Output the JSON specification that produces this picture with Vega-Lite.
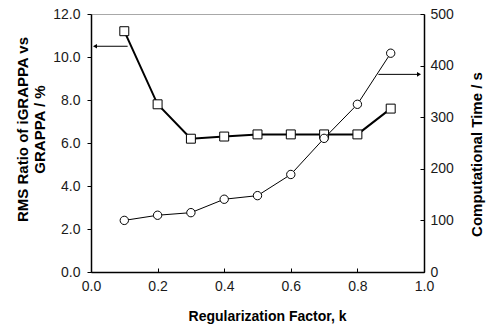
{
  "$schema": "https://vega.github.io/schema/vega-lite/v6.json",
  "width": 333,
  "height": 258,
  "autosize": "none",
  "padding": {"left": 91, "top": 14, "right": 71, "bottom": 52},
  "background": "white",
  "config": {
    "font": "Liberation Sans",
    "view": {"stroke": "#a8a8a8", "strokeWidth": 1},
    "axis": {
      "grid": false,
      "domainColor": "black",
      "domainWidth": 1.5,
      "tickColor": "black",
      "tickWidth": 1,
      "labelFont": "Liberation Sans",
      "labelFontSize": 14,
      "labelColor": "#1a1a1a",
      "labelFlush": false,
      "titleFont": "Liberation Sans",
      "titleFontSize": 15,
      "titleFontWeight": "bold",
      "titleColor": "black"
    }
  },
  "datasets": {
    "series": [
      {"k": 0.1, "rms": 11.2, "time": 100},
      {"k": 0.2, "rms": 7.8, "time": 110},
      {"k": 0.3, "rms": 6.2, "time": 115},
      {"k": 0.4, "rms": 6.3, "time": 141},
      {"k": 0.5, "rms": 6.4, "time": 148},
      {"k": 0.6, "rms": 6.4, "time": 189},
      {"k": 0.7, "rms": 6.4, "time": 259},
      {"k": 0.8, "rms": 6.4, "time": 325},
      {"k": 0.9, "rms": 7.6, "time": 424}
    ],
    "leftArrow": [
      {"k": 0.11, "rms": 10.5, "end": 0.012}
    ],
    "rightArrow": [
      {"k": 0.863, "time": 383, "end": 0.985}
    ]
  },
  "layer": [
    {
      "layer": [
        {
          "data": {"name": "leftArrow"},
          "mark": {"type": "rule", "color": "black", "strokeWidth": 1},
          "encoding": {
            "x": {"field": "k", "type": "quantitative"},
            "x2": {"field": "end"},
            "y": {"field": "rms", "type": "quantitative"}
          }
        },
        {
          "data": {"name": "leftArrow"},
          "mark": {"type": "point", "shape": "triangle-left", "filled": true, "color": "black", "size": 22, "opacity": 1},
          "encoding": {
            "x": {"field": "end", "type": "quantitative"},
            "y": {"field": "rms", "type": "quantitative"}
          }
        },
        {
          "data": {"name": "series"},
          "mark": {"type": "line", "color": "black", "strokeWidth": 2},
          "encoding": {
            "x": {
              "field": "k", "type": "quantitative",
              "scale": {"domain": [0, 1], "nice": false},
              "axis": {
                "values": [0, 0.2, 0.4, 0.6, 0.8, 1.0],
                "format": ".1f",
                "tickSize": -4,
                "labelPadding": 11,
                "title": "Regularization Factor, k",
                "titleFontSize": 14,
                "titleX": 176,
                "titleY": 48,
                "titleAlign": "center",
                "titleBaseline": "alphabetic"
              }
            },
            "y": {
              "field": "rms", "type": "quantitative",
              "scale": {"domain": [0, 12], "nice": false},
              "axis": {
                "orient": "left",
                "values": [0, 2, 4, 6, 8, 10, 12],
                "format": ".1f",
                "tickSize": 4,
                "labelPadding": 7,
                "title": ["RMS Ratio of iGRAPPA vs", "\u00a0\u00a0\u00a0\u00a0\u00a0\u00a0\u00a0\u00a0\u00a0\u00a0\u00a0GRAPPA / %"],
                "titleAngle": -90,
                "titleX": -69,
                "titleY": 115,
                "titleAlign": "center",
                "titleBaseline": "middle",
                "titleLineHeight": 17.5
              }
            }
          }
        },
        {
          "data": {"name": "series"},
          "mark": {"type": "point", "shape": "square", "filled": true, "fill": "white", "stroke": "black", "strokeWidth": 1, "size": 80, "opacity": 1},
          "encoding": {
            "x": {"field": "k", "type": "quantitative"},
            "y": {"field": "rms", "type": "quantitative"}
          }
        }
      ]
    },
    {
      "layer": [
        {
          "data": {"name": "rightArrow"},
          "mark": {"type": "rule", "color": "black", "strokeWidth": 1},
          "encoding": {
            "x": {"field": "k", "type": "quantitative"},
            "x2": {"field": "end"},
            "y": {"field": "time", "type": "quantitative"}
          }
        },
        {
          "data": {"name": "rightArrow"},
          "mark": {"type": "point", "shape": "triangle-right", "filled": true, "color": "black", "size": 22, "opacity": 1},
          "encoding": {
            "x": {"field": "end", "type": "quantitative"},
            "y": {"field": "time", "type": "quantitative"}
          }
        },
        {
          "data": {"name": "series"},
          "mark": {"type": "line", "color": "black", "strokeWidth": 1},
          "encoding": {
            "x": {"field": "k", "type": "quantitative"},
            "y": {
              "field": "time", "type": "quantitative",
              "scale": {"domain": [0, 500], "nice": false},
              "axis": {
                "orient": "right",
                "values": [0, 100, 200, 300, 400, 500],
                "tickSize": -4,
                "labelPadding": 10,
                "title": "Computational Time / s",
                "titleAngle": -90,
                "titleX": 52,
                "titleY": 140,
                "titleAlign": "center",
                "titleBaseline": "middle"
              }
            }
          }
        },
        {
          "data": {"name": "series"},
          "mark": {"type": "point", "shape": "circle", "filled": true, "fill": "white", "stroke": "black", "strokeWidth": 1, "size": 70, "opacity": 1},
          "encoding": {
            "x": {"field": "k", "type": "quantitative"},
            "y": {"field": "time", "type": "quantitative"}
          }
        }
      ]
    }
  ],
  "resolve": {"scale": {"y": "independent"}}
}
